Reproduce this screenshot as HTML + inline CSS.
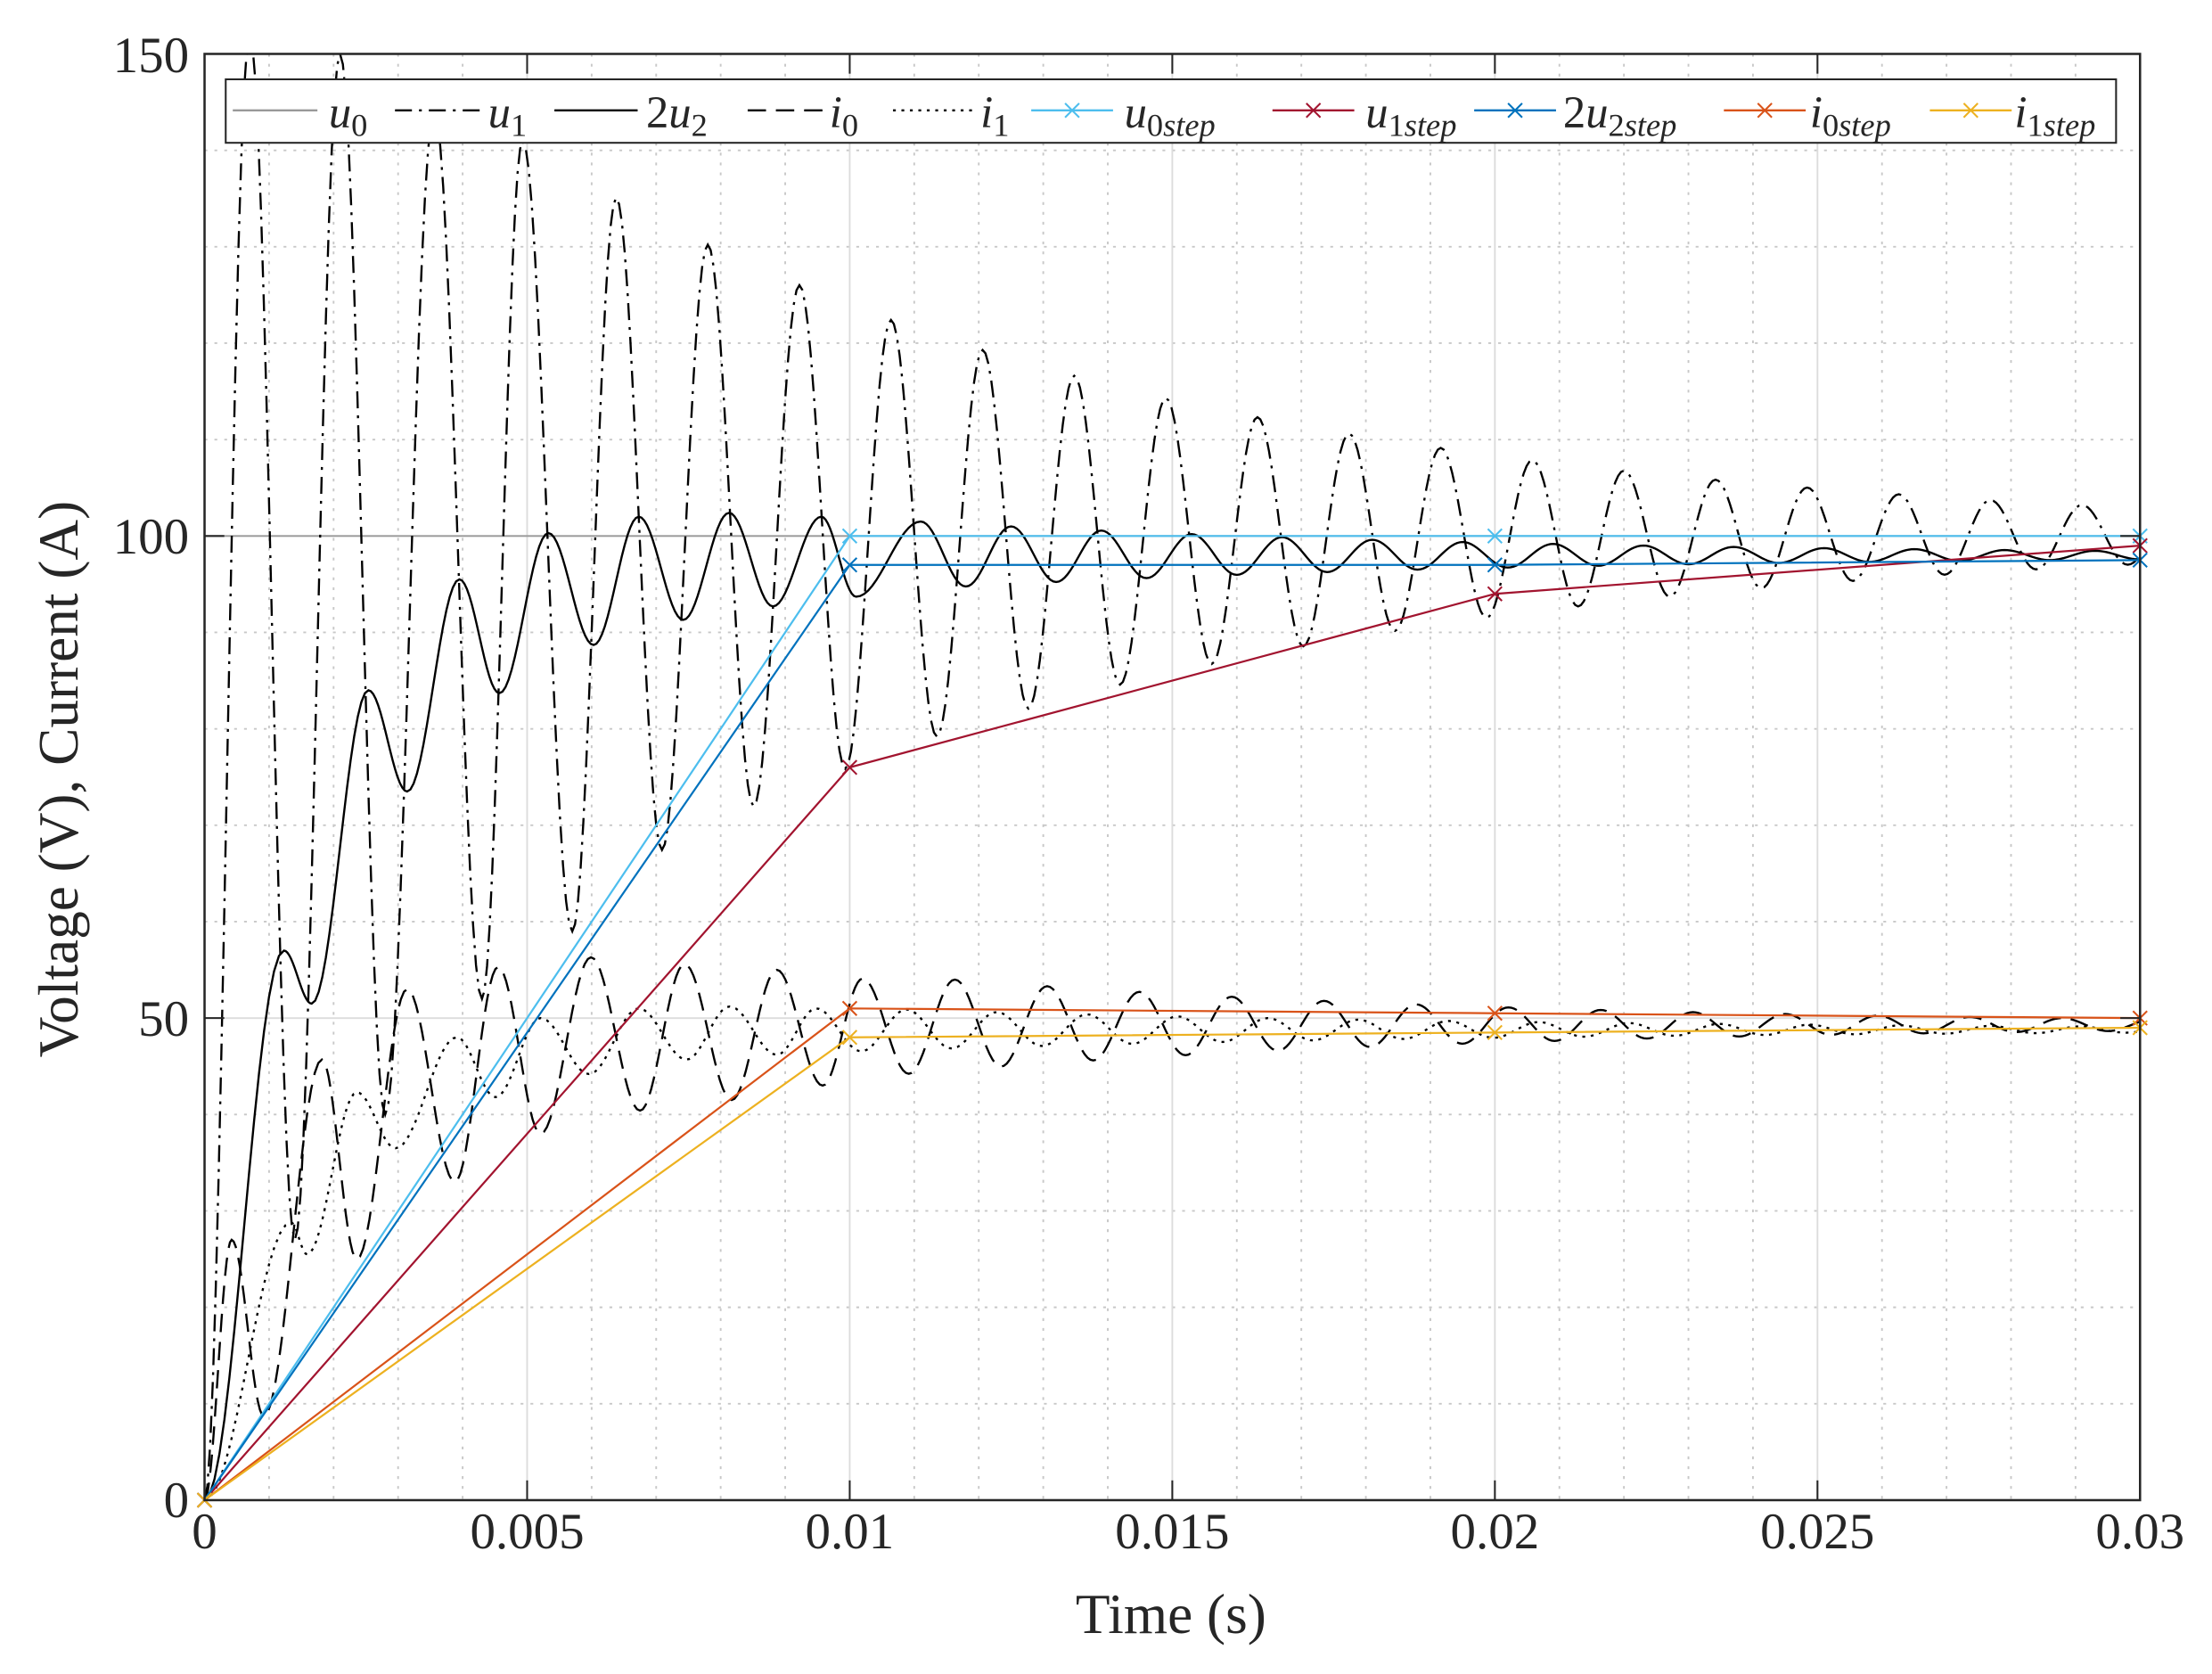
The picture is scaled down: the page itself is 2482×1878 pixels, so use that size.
<!DOCTYPE html>
<html><head><meta charset="utf-8"><style>
html,body{margin:0;padding:0;background:#fff;}
svg{display:block;}
text{font-family:"Liberation Serif",serif;fill:#262626;}
</style></head><body>
<svg id="s" width="2482" height="1878" viewBox="0 0 1568 1186" xmlns="http://www.w3.org/2000/svg">
<defs><clipPath id="c"><rect x="145" y="38" width="1372" height="1025"/></clipPath></defs>
<rect x="0" y="0" width="1568" height="1186" fill="#fff"/>
<g id="grid"></g>
<g id="data" clip-path="url(#c)"></g>
<g id="axes"></g>
<g id="leg"></g>
<g font-size="36" text-anchor="middle">
<text x="145" y="1097">0</text>
<text x="373.7" y="1097">0.005</text>
<text x="602.3" y="1097">0.01</text>
<text x="831" y="1097">0.015</text>
<text x="1059.7" y="1097">0.02</text>
<text x="1288.3" y="1097">0.025</text>
<text x="1517" y="1097">0.03</text>
</g>
<g font-size="36" text-anchor="end">
<text x="134" y="1075">0</text>
<text x="134" y="734">50</text>
<text x="134" y="392">100</text>
<text x="134" y="51">150</text>
</g>
<text x="830" y="1157" font-size="40" text-anchor="middle">Time (s)</text>
<text x="0" y="0" font-size="40" text-anchor="middle" transform="translate(55,552) rotate(-90)">Voltage (V), Current (A)</text>
</svg>
<script>
const NS="http://www.w3.org/2000/svg";
const X=t=>145+t*1372/0.03, Y=v=>1063-v*1025/150;
function el(p,tag,a){const e=document.createElementNS(NS,tag);for(const k in a)e.setAttribute(k,a[k]);p.appendChild(e);return e;}
const grid=document.getElementById('grid'),data=document.getElementById('data'),axes=document.getElementById('axes'),leg=document.getElementById('leg');
// minor grid
for(let i=1;i<30;i++){if(i%5==0)continue;const x=X(i*0.001);el(grid,'line',{x1:x,x2:x,y1:38,y2:1063,stroke:'#c8c8c8','stroke-width':1.2,'stroke-dasharray':'2,5'});}
for(let v=10;v<150;v+=10){if(v%50==0)continue;const y=Y(v);el(grid,'line',{x1:145,x2:1517,y1:y,y2:y,stroke:'#c8c8c8','stroke-width':1.2,'stroke-dasharray':'2,5'});}
for(let i=1;i<6;i++){const x=X(i*0.005);el(grid,'line',{x1:x,x2:x,y1:38,y2:1063,stroke:'#dcdcdc','stroke-width':1.2});}
for(const v of [50,100]){const y=Y(v);el(grid,'line',{x1:145,x2:1517,y1:y,y2:y,stroke:'#dcdcdc','stroke-width':1.2});}
// curves
function curve(ext){let d='';for(let i=0;i<ext.length-1;i++){const [t0,v0]=ext[i],[t1,v1]=ext[i+1];for(let j=(i==0?0:1);j<=16;j++){const s=j/16,t=t0+(t1-t0)*s,v=v0+(v1-v0)*(1-Math.cos(Math.PI*s))/2;d+=(d?'L':'M')+X(t).toFixed(2)+','+Y(v).toFixed(2);}}return d;}
function extend(ext,t0,half,c,A0,tref,tau,startPeak){for(let k=0;;k++){const t=t0+k*half;const A=A0*Math.exp(-(t-tref)/tau);const pk=(k%2==0)==startPeak;ext.push([t,c+(pk?A:-A)]);if(t>0.031)break;}return ext;}
let u1=[[0,0],[.0007,152],[.0014,27],[.0021,150],[.0028,40],[.00356,144],[.0043,52],[.00493,141],[.0057,59]];
extend(u1,.00638,.00071,100,22.5,.0106,.0095,true);
let u2=[[0,0],[.00123,57],[.00166,51.5],[.00254,84],[.00314,73.5],[.00395,95.5],[.00457,83.7],[.00533,100.3],[.00603,88.7],[.00673,102],[.00742,91.3],[.00813,102.4],[.00881,92.7],[.00956,102],[.0101,93.7]];
extend(u2,.0111,.0007,98,3.5,.0111,.009,true);
let i0=[[0,0],[.00042,27],[.00092,8.7],[.00182,45.7],[.00236,25],[.00314,53],[.00388,33],[.00455,55.3],[.00521,38],[.00599,56.3],[.00675,40.4],[.00744,55.6],[.00817,41.5],[.00887,55],[.00958,43],[.0102,54.1]];
extend(i0,.0102+.000715,.000715,49.3,5.5,.0102,.009,false);
let i1=[[0,0],[.00134,28.8],[.00159,25.5],[.00236,42.3],[.00296,36.5],[.00391,48],[.00451,41.8],[.00521,50],[.00596,44.2],[.00673,51],[.00747,45.7],[.00814,51.2],[.00887,46.2],[.00948,51]];
extend(i1,.00948+.0007,.0007,48.8,2.4,.0095,.01,false);
el(data,'line',{x1:X(0),x2:X(0.03),y1:Y(100),y2:Y(100),stroke:'#999','stroke-width':1.2});
el(data,'path',{d:curve(u1),fill:'none',stroke:'#000','stroke-width':1.5,'stroke-dasharray':'12,5,2,5'});
el(data,'path',{d:curve(u2),fill:'none',stroke:'#000','stroke-width':1.5});
el(data,'path',{d:curve(i0),fill:'none',stroke:'#000','stroke-width':1.5,'stroke-dasharray':'13,7'});
el(data,'path',{d:curve(i1),fill:'none',stroke:'#000','stroke-width':1.5,'stroke-dasharray':'2,4'});
const steps=[['#4DBEEE',[0,100,100,100]],['#A2142F',[0,76,94,99]],['#0072BD',[0,97,97,97.5]],['#D95319',[0,51,50.5,50]],['#EDB120',[0,48,48.5,49]]];
function mk(g,x,y,c){el(g,'path',{d:`M${x-5},${y-5}L${x+5},${y+5}M${x-5},${y+5}L${x+5},${y-5}`,stroke:c,'stroke-width':1.3,fill:'none'});}
for(const [c,vs] of steps){const pts=vs.map((v,i)=>[X(i*0.01),Y(v)]);el(data,'polyline',{points:pts.map(p=>p.join(',')).join(' '),fill:'none',stroke:c,'stroke-width':1.4});}
const ax=document.createElementNS(NS,'g');
for(const [c,vs] of steps){vs.forEach((v,i)=>mk(axes,X(i*0.01),Y(v),c));}
// axes box and ticks
el(axes,'rect',{x:145,y:38,width:1372,height:1025,fill:'none',stroke:'#262626','stroke-width':1.6});
for(let i=1;i<6;i++){const x=X(i*0.005);el(axes,'line',{x1:x,x2:x,y1:1063,y2:1049,stroke:'#262626','stroke-width':1.3});el(axes,'line',{x1:x,x2:x,y1:38,y2:52,stroke:'#262626','stroke-width':1.3});}
for(const v of [50,100]){const y=Y(v);el(axes,'line',{x1:145,x2:159,y1:y,y2:y,stroke:'#262626','stroke-width':1.3});el(axes,'line',{x1:1517,x2:1503,y1:y,y2:y,stroke:'#262626','stroke-width':1.3});}
// legend
el(leg,'rect',{x:160,y:56,width:1340,height:45,fill:'#fff',stroke:'#262626','stroke-width':1.3});
const ly=78;
const L=[[165,225,'#999',null,false,233,'u','0',''],[280,340,'#000','12,5,2,5',false,346,'u','1',''],[393,452,'#000',null,false,458,'u','2','2'],[530,586,'#000','13,7',false,588,'i','0',''],[633,690,'#000','2,4',false,695,'i','1',''],
[731,789,'#4DBEEE',null,true,797,'u','0step',''],[902,960,'#A2142F',null,true,968,'u','1step',''],[1045,1103,'#0072BD',null,true,1108,'u','2step','2'],[1222,1280,'#D95319',null,true,1283,'i','0step',''],[1368,1426,'#EDB120',null,true,1428,'i','1step','']];
for(const [a,b,c,da,m,tx,v,sub,pre] of L){const at={x1:a,x2:b,y1:ly,y2:ly,stroke:c,'stroke-width':1.5};if(da)at['stroke-dasharray']=da;el(leg,'line',at);if(m)mk(leg,(a+b)/2,ly,c);
const t=el(leg,'text',{x:tx,y:90,'font-size':32});
if(pre){const s=el(t,'tspan',{});s.textContent=pre;}
const s1=el(t,'tspan',{'font-style':'italic'});s1.textContent=v;
const dig=sub[0],rest=sub.slice(1);
const s2=el(t,'tspan',{'font-size':23,dy:6});s2.textContent=dig;
if(rest){const s3=el(t,'tspan',{'font-size':23,'font-style':'italic'});s3.textContent=rest;}}
</script>
</body></html>
